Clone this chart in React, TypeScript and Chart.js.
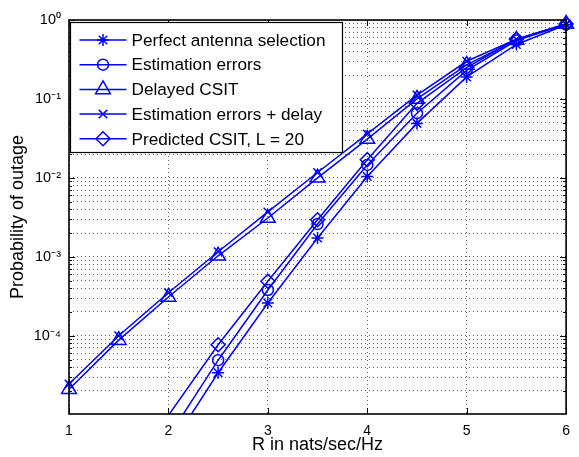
import React, { useEffect, useRef } from 'react';
import { Chart, registerables } from 'chart.js';
import { drawPoint } from 'chart.js/helpers';

Chart.register(...registerables);

// ---- data ----
const rates = [1, 1.5, 2, 2.5, 3, 3.5, 4, 4.5, 5, 5.5, 6];
const perfectSelection = [null, null, 3.6e-6, 3.4e-5, 2.6e-4, 1.73e-3, 1.04e-2, 0.049, 0.19, 0.49, 0.87];
const estimationErrors = [null, null, 5.2e-6, 4.9e-5, 3.8e-4, 2.6e-3, 1.46e-2, 0.066, 0.23, 0.55, 0.88];
const delayedCsit = [2.1e-5, 8.8e-5, 3.1e-4, 1.03e-3, 3.1e-3, 1.0e-2, 3.1e-2, 0.1, 0.27, 0.56, 0.89];
const errorsPlusDelay = [2.45e-5, 1.0e-4, 3.5e-4, 1.16e-3, 3.7e-3, 1.17e-2, 3.6e-2, 0.112, 0.3, 0.57, 0.89];
const predictedCsit = [null, null, 9.8e-6, 7.7e-5, 4.9e-4, 2.95e-3, 1.7e-2, 0.088, 0.25, 0.57, 0.89];

const seriesLabels = [
  'Perfect antenna selection',
  'Estimation errors',
  'Delayed CSIT',
  'Estimation errors + delay',
  'Predicted CSIT, L = 20',
];
const xTickValues = [1, 2, 3, 4, 5, 6];
const yDecadeExponents = [-5, -4, -3, -2, -1, 0];
const xTitle = 'R in nats/sec/Hz';
const yTitle = 'Probability of outage';

const Y_MIN = 1.02e-5;
const Y_MAX = 1;
const BLUE = '#0000ff';
const FONT = "'Liberation Sans', Arial, Helvetica, sans-serif";

const SUP: Record<string, string> = {
  '-': '\u207B', '0': '\u2070', '1': '\u00B9', '2': '\u00B2', '3': '\u00B3',
  '4': '\u2074', '5': '\u2075', '6': '\u2076', '7': '\u2077', '8': '\u2078', '9': '\u2079',
};
const toSup = (n: number) => String(n).split('').map((c) => SUP[c] || c).join('');

const isMajor = (v: number) => {
  const l = Math.log10(v);
  return Math.abs(l - Math.round(l)) < 1e-9;
};

const yGridValues: number[] = [];
yDecadeExponents.forEach((e) => {
  for (let m = 1; m <= 9; m++) {
    const v = m * Math.pow(10, e);
    if (v >= Y_MIN * 0.999 && v <= Y_MAX * 1.0001) yGridValues.push(v);
  }
});

const toPoints = (ys: (number | null)[]) =>
  rates.map((x, i) => ({ x, y: ys[i] })).filter((p) => p.y !== null);

const styles = [
  { pointStyle: 'star', radius: 6 },
  { pointStyle: 'circle', radius: 5.5 },
  { pointStyle: 'triangle', radius: 8.5 },
  { pointStyle: 'crossRot', radius: 6 },
  { pointStyle: 'rectRot', radius: 7 },
];
const seriesValues = [perfectSelection, estimationErrors, delayedCsit, errorsPlusDelay, predictedCsit];

const framePlugin = {
  id: 'frameTicks',
  afterDatasetsDraw(chart: any) {
    const { ctx, chartArea: a, scales } = chart;
    ctx.save();
    ctx.strokeStyle = '#000';
    ctx.lineWidth = 1;
    ctx.beginPath();
    scales.y.ticks.forEach((t: any) => {
      const py = Math.round(scales.y.getPixelForValue(t.value)) + 0.5;
      const len = isMajor(t.value) ? 6 : 3;
      ctx.moveTo(a.left, py);
      ctx.lineTo(a.left + len, py);
      ctx.moveTo(a.right, py);
      ctx.lineTo(a.right - len, py);
    });
    scales.x.ticks.forEach((t: any) => {
      const px = Math.round(scales.x.getPixelForValue(t.value)) + 0.5;
      ctx.moveTo(px, a.bottom);
      ctx.lineTo(px, a.bottom - 6);
      ctx.moveTo(px, a.top);
      ctx.lineTo(px, a.top + 6);
    });
    ctx.stroke();
    ctx.lineWidth = 1.6;
    ctx.strokeRect(a.left, a.top, a.right - a.left, a.bottom - a.top);
    ctx.restore();
  },
};

const legendPlugin = {
  id: 'boxLegend',
  afterDraw(chart: any) {
    const { ctx, chartArea: a } = chart;
    const x0 = a.left + 1.5;
    const y0 = a.top + 2.5;
    const w = 272;
    const h = 130;
    ctx.save();
    ctx.fillStyle = '#fff';
    ctx.fillRect(x0, y0, w, h);
    ctx.strokeStyle = '#000';
    ctx.lineWidth = 1.2;
    ctx.strokeRect(x0, y0, w, h);
    chart.data.datasets.forEach((ds: any, i: number) => {
      const cy = y0 + 17.5 + i * 24.7;
      ctx.strokeStyle = ds.borderColor;
      ctx.lineWidth = ds.borderWidth;
      ctx.beginPath();
      ctx.moveTo(x0 + 9, cy);
      ctx.lineTo(x0 + 56, cy);
      ctx.stroke();
      ctx.fillStyle = 'rgba(0,0,0,0)';
      drawPoint(ctx, { pointStyle: ds.pointStyle, radius: styles[i].radius, rotation: 0, borderWidth: ds.pointBorderWidth }, x0 + 32.5, cy);
      ctx.fillStyle = '#000';
      ctx.font = `17.2px ${FONT}`;
      ctx.textBaseline = 'middle';
      ctx.textAlign = 'left';
      ctx.fillText(ds.label, x0 + 61, cy + 1);
    });
    ctx.restore();
  },
};

export default function App() {
  const ref = useRef<HTMLCanvasElement>(null);
  useEffect(() => {
    if (!ref.current) return;
    const chart = new Chart(ref.current, {
      type: 'line',
      data: {
        datasets: seriesValues.map((vals, i) => ({
          label: seriesLabels[i],
          data: toPoints(vals) as any,
          borderColor: BLUE,
          borderWidth: 1.5,
          pointStyle: styles[i].pointStyle as any,
          pointRadius: (c: any) => (c.raw && c.raw.y < Y_MIN ? 0 : styles[i].radius),
          pointBorderColor: BLUE,
          pointBackgroundColor: 'rgba(0,0,0,0)',
          pointBorderWidth: 1.5,
          fill: false,
          tension: 0,
          clip: { left: 12, right: 12, top: 12, bottom: 0 },
        })),
      },
      options: {
        animation: false,
        responsive: false,
        maintainAspectRatio: false,
        layout: { padding: { top: 20, right: 11, left: 0, bottom: 0 } },
        plugins: { legend: { display: false }, tooltip: { enabled: false } },
        scales: {
          x: {
            type: 'linear',
            min: 1,
            max: 6,
            afterBuildTicks: (s: any) => {
              s.ticks = xTickValues.map((v) => ({ value: v }));
            },
            afterFit: (s: any) => {
              s.height = 43;
            },
            ticks: {
              autoSkip: false,
              maxRotation: 0,
              padding: 9,
              color: '#000',
              font: { family: FONT, size: 14 },
              callback: (v: any) => String(v),
            },
            grid: { color: 'rgba(0,0,0,0.6)', lineWidth: 1, drawTicks: false },
            border: { display: false, dash: [1, 3] },
            title: {
              display: true,
              text: xTitle,
              color: '#000',
              font: { family: FONT, size: 18 },
              padding: { top: 0, bottom: 1 },
            },
          },
          y: {
            type: 'logarithmic',
            min: Y_MIN,
            max: Y_MAX,
            afterBuildTicks: (s: any) => {
              s.ticks = yGridValues.map((v) => ({ value: v }));
            },
            afterFit: (s: any) => {
              s.width = 69;
            },
            ticks: {
              autoSkip: false,
              padding: 8,
              color: '#000',
              font: { family: FONT, size: 14.5 },
              callback: (v: any) => (isMajor(Number(v)) ? '10' + toSup(Math.round(Math.log10(Number(v)))) : ''),
            },
            grid: { color: 'rgba(0,0,0,0.6)', lineWidth: 1, drawTicks: false },
            border: { display: false, dash: [1, 3] },
            title: {
              display: true,
              text: yTitle,
              color: '#000',
              font: { family: FONT, size: 18 },
              padding: { top: 7, bottom: 0 },
            },
          },
        },
      },
      plugins: [framePlugin, legendPlugin],
    } as any);
    return () => chart.destroy();
  }, []);
  return (
    <div style={{ position: 'fixed', left: 0, top: 0, width: 579, height: 457, background: '#fff' }}>
      <canvas ref={ref} width={579} height={457} style={{ width: 579, height: 457 }} />
    </div>
  );
}
